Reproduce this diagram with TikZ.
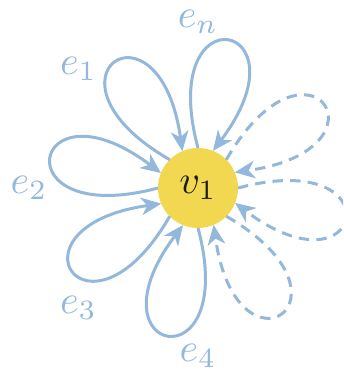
\documentclass[tikz,border=0pt]{standalone}
\usetikzlibrary{arrows.meta}
\definecolor{loopblue}{RGB}{148,184,219}
\definecolor{nodeyellow}{RGB}{242,216,80}
\definecolor{darktext}{RGB}{30,30,30}
\begin{document}
\begin{tikzpicture}[x=0.25pt,y=0.25pt,
  vert/.style={circle,fill=nodeyellow,minimum size=20pt,inner sep=0pt,outer sep=0pt,text=darktext},
  loopedge/.style={draw=loopblue,line width=0.75pt,-{Stealth[length=5pt,width=4.4pt,inset=1.5pt]}},
  dashedloop/.style={loopedge,dash pattern=on 2.6pt off 1.8pt},
  lbl/.style={text=loopblue,inner sep=0pt}]
\useasboundingbox (0,0) rectangle (343,373);
\node[vert] (v) at (198,185) {$v_1$};
\begin{scope}
\clip (0,0) rectangle (343,373);
\foreach \t/\s in {79/loopedge,124/loopedge,169/loopedge,214/loopedge,259/loopedge,304/dashedloop,349/dashedloop,394/dashedloop}{
  \pgfmathtruncatemacro{\a}{mod(\t+11,360)}
  \pgfmathtruncatemacro{\b}{mod(\t-11,360)}
  \draw[\s] (v.\a) to[out=\t+26,in=\t-26,distance=41pt] (v.\b);
}
\end{scope}
\node[lbl] (en) at ([shift={(90:166)}]v.center) {$e_n$};
\node[lbl] (e1) at ([shift={(135:169)}]v.center) {$e_1$};
\node[lbl] (e2) at ([shift={(180:169)}]v.center) {$e_2$};
\node[lbl] (e3) at ([shift={(225:169)}]v.center) {$e_3$};
\node[lbl] (e4) at ([shift={(270:168)}]v.center) {$e_4$};
\end{tikzpicture}
\end{document}
